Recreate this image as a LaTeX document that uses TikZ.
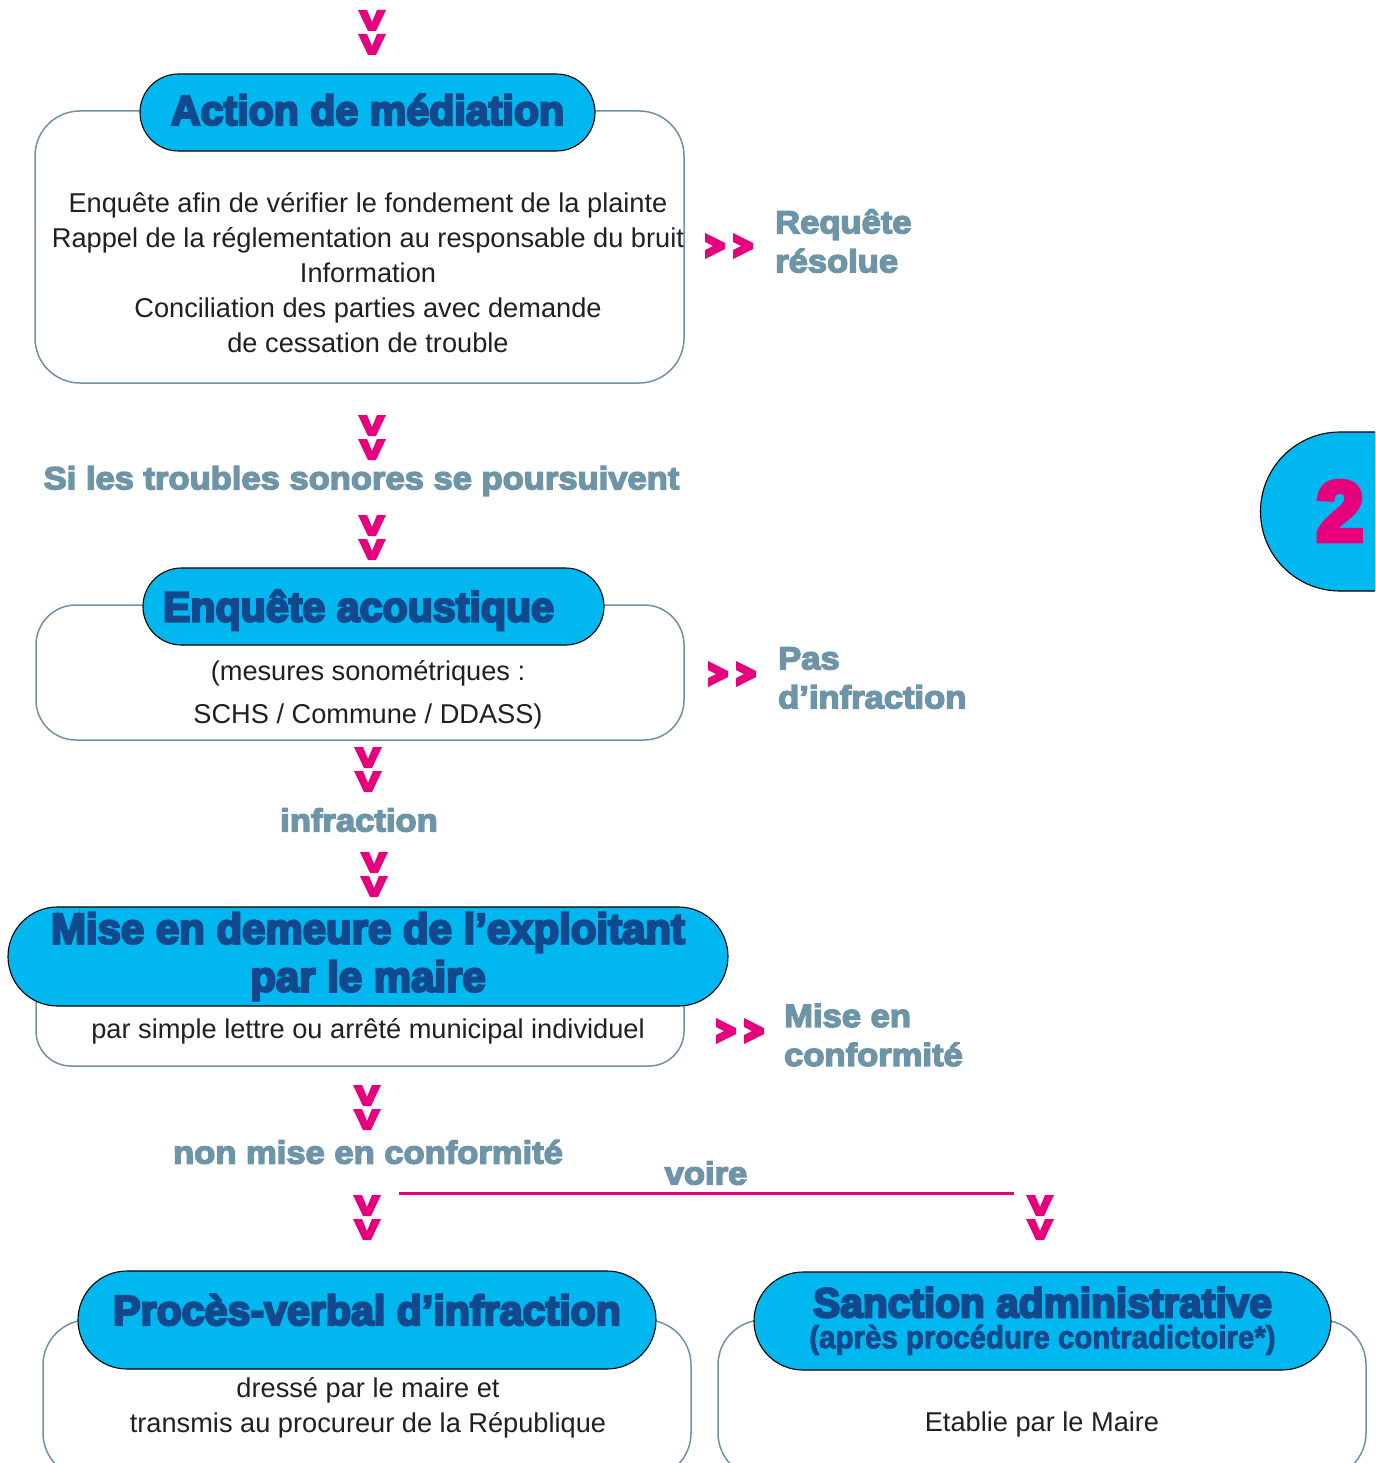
\documentclass[tikz,border=0pt]{standalone}
\usepackage{fontspec}
\setmainfont{Liberation Sans}
\newfontfamily\headfont{Liberation Sans}[BoldFeatures={FakeBold=5.5,FakeStretch=0.98}]
\newfontfamily\labfont{Liberation Sans}[BoldFeatures={FakeBold=4.5,FakeStretch=1.08}]
\newfontfamily\subfont{Liberation Sans}[BoldFeatures={FakeBold=2.5,FakeStretch=0.92}]
\newfontfamily\numfont{Liberation Sans}[BoldFeatures={FakeBold=7}]
\definecolor{cyanf}{RGB}{0,183,239}
\definecolor{navy}{RGB}{18,72,140}
\definecolor{grayb}{RGB}{110,148,168}
\definecolor{mag}{RGB}{230,0,126}
\definecolor{boxline}{RGB}{112,145,165}
\definecolor{txt}{RGB}{35,31,32}
\tikzset{
  outerbox/.style={draw=boxline, line width=1.5pt, fill=white, inner sep=0pt},
  pill/.style={draw=black, line width=1.1pt, fill=cyanf, inner sep=0pt, text=navy, align=center,
    font=\headfont\bfseries\fontsize{42}{48}\selectfont},
  body/.style={inner sep=0pt, text=txt, align=center, font=\fontsize{27.2}{35}\selectfont},
  lab/.style={inner sep=0pt, text=grayb, align=left, font=\labfont\bfseries\fontsize{32}{39}\selectfont},
  dchev/.pic={
    \fill[mag] (-14,0)--(-5,0)--(0,12)--(5,0)--(14,0)--(4,21)--(-4,21)--cycle;
    \fill[mag] (-14,24)--(-5,24)--(0,36)--(5,24)--(14,24)--(4,45)--(-4,45)--cycle;
  },
  rchev/.pic={
    \fill[mag] (0,-13)--(20,-3)--(20,3)--(0,13)--(0,4)--(8,0)--(0,-4)--cycle;
    \fill[mag] (28,-13)--(48,-3)--(48,3)--(28,13)--(28,4)--(36,0)--(28,-4)--cycle;
  }
}
\begin{document}
\begin{tikzpicture}[x=1pt,y=-1pt]
\useasboundingbox (0,0) rectangle (1375,1463);
\clip (0,0) rectangle (1375,1463);
\fill[white] (0,0) rectangle (1375,1463);

% ---- block 1
\pic at (372,10) {dchev};
\node[outerbox, minimum width=649, minimum height=272, rounded corners=45pt] (b1) at (359.5,247) {};
\node[pill, minimum width=455, minimum height=77, rounded corners=38.5pt, text height=30pt, text depth=5pt] (p1) at (367.5,112.5) {Action de médiation};
\node[body] (t1) at (368,273) {Enquête afin de vérifier le fondement de la plainte\\Rappel de la réglementation au responsable du bruit\\Information\\Conciliation des parties avec demande\\de cessation de trouble};
\pic at (705,246) {rchev};
\node[lab, anchor=west] (r1) at (775,241) {Requête\\résolue};

\pic at (372,415) {dchev};
\node[lab, align=center] (l1) at (361.5,481) {Si les troubles sonores se poursuivent};
\pic at (372,515) {dchev};

% ---- block 2
\node[outerbox, minimum width=648, minimum height=135, rounded corners=40pt] (b2) at (360,672.5) {};
\node[pill, minimum width=461, minimum height=77, rounded corners=38.5pt, text height=30pt, text depth=0pt] (p2) at (373.5,606.5) {Enquête acoustique\hspace*{30pt}};
\node[body, font=\fontsize{27.2}{43}\selectfont] (t2) at (368,695) {(mesures sonométriques :\\SCHS / Commune / DDASS)};
\pic at (708,674) {rchev};
\node[lab, anchor=west] (r2) at (778,678) {Pas\\d’infraction};

\pic at (368,747) {dchev};
\node[lab, align=center] (l2) at (359,820) {infraction};
\pic at (374,852) {dchev};

% ---- block 3
\node[outerbox, minimum width=648, minimum height=96, rounded corners=35pt] (b3) at (360,1018) {};
\node[pill, minimum width=720, minimum height=99, rounded corners=49.5pt, font=\headfont\bfseries\fontsize{42.8}{48}\selectfont] (p3) at (368,956.5) {Mise en demeure de l’exploitant\\par le maire};
\node[body] (t3) at (368,1031) {par simple lettre ou arrêté municipal individuel};
\pic at (716,1031) {rchev};
\node[lab, anchor=west] (r3) at (784,1035) {Mise en\\conformité};

\pic at (367,1085) {dchev};
\node[lab, align=center] (l3) at (368,1152) {non mise en conformité};
\node[lab, align=center] (l4) at (706,1173) {voire};
\coordinate (vl) at (399,1193);
\coordinate (vr) at (1014,1193);
\draw[mag, line width=3pt] (vl) -- (vr);
\pic at (367,1195) {dchev};
\pic at (1040,1195) {dchev};

% ---- block 4
\node[outerbox, minimum width=648, minimum height=158, rounded corners=45pt] (b4) at (367,1399) {};
\node[pill, minimum width=578, minimum height=98, rounded corners=49pt, text height=30pt, text depth=20pt] (p4) at (367,1320) {Procès-verbal d’infraction};
\node[body] (t4) at (368,1408) {dressé par le maire et\\transmis au procureur de la République};

% ---- block 5
\node[outerbox, minimum width=648, minimum height=158, rounded corners=45pt] (b5) at (1042,1399) {};
\node[pill, minimum width=577, minimum height=98, rounded corners=49pt, font=\headfont\bfseries\fontsize{41.5}{31}\selectfont] (p5) at (1042.5,1321) {Sanction administrative\\{\subfont\bfseries\fontsize{32}{31}\selectfont (après procédure contradictoire*)}};
\node[body] (t5) at (1042,1424) {Etablie par le Maire};

% ---- tab 2
\draw[fill=cyanf, draw=black, line width=1.1pt] (1390,432) -- (1340,432) arc[start angle=270, end angle=90, radius=79.5] -- (1390,591);
\node[inner sep=0pt, text=mag, font=\numfont\bfseries\fontsize{84}{84}\selectfont] (n2) at (1340,511) {2};
\end{tikzpicture}
\end{document}
